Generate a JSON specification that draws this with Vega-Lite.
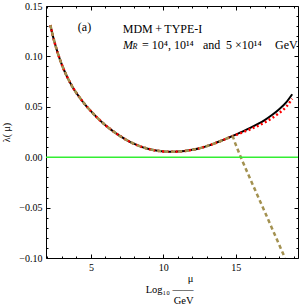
{
  "$schema": "https://vega.github.io/schema/vega-lite/v6.json",
  "width": 252,
  "height": 252,
  "autosize": {"type": "none"},
  "padding": {"left": 46, "top": 6, "right": 2, "bottom": 47},
  "background": "white",
  "config": {
    "font": "Liberation Serif",
    "view": {"stroke": "black", "strokeWidth": 1},
    "axis": {
      "domain": false,
      "grid": false,
      "labelFont": "Liberation Serif",
      "labelFontSize": 10,
      "labelColor": "black",
      "tickColor": "black",
      "titleFont": "Liberation Serif",
      "titleFontWeight": "normal",
      "titleColor": "black",
      "titleFontSize": 10
    }
  },
  "datasets": {
    "curves": [
      {"s": "black", "x": 2.2, "y": 0.131}, {"s": "black", "x": 2.5, "y": 0.1135}, {"s": "black", "x": 2.8, "y": 0.0995}, {"s": "black", "x": 3.1, "y": 0.088}, {"s": "black", "x": 3.4, "y": 0.0785}, {"s": "black", "x": 3.7, "y": 0.0705}, {"s": "black", "x": 4.0, "y": 0.0637}, {"s": "black", "x": 4.5, "y": 0.054}, {"s": "black", "x": 5.0, "y": 0.0457}, {"s": "black", "x": 5.5, "y": 0.0383}, {"s": "black", "x": 6.0, "y": 0.0318}, {"s": "black", "x": 6.5, "y": 0.0261}, {"s": "black", "x": 7.0, "y": 0.0211}, {"s": "black", "x": 7.5, "y": 0.0168}, {"s": "black", "x": 8.0, "y": 0.0132}, {"s": "black", "x": 8.5, "y": 0.0103}, {"s": "black", "x": 9.0, "y": 0.0081}, {"s": "black", "x": 9.5, "y": 0.0066}, {"s": "black", "x": 10.0, "y": 0.0057}, {"s": "black", "x": 10.5, "y": 0.0054}, {"s": "black", "x": 11.0, "y": 0.0056}, {"s": "black", "x": 11.5, "y": 0.0062}, {"s": "black", "x": 12.0, "y": 0.0073}, {"s": "black", "x": 12.5, "y": 0.0089}, {"s": "black", "x": 13.0, "y": 0.011}, {"s": "black", "x": 13.5, "y": 0.0135}, {"s": "black", "x": 14.0, "y": 0.0163}, {"s": "black", "x": 14.5, "y": 0.0193}, {"s": "black", "x": 15.0, "y": 0.0224}, {"s": "black", "x": 15.5, "y": 0.0256}, {"s": "black", "x": 16.0, "y": 0.029}, {"s": "black", "x": 16.5, "y": 0.0327}, {"s": "black", "x": 17.0, "y": 0.0368}, {"s": "black", "x": 17.5, "y": 0.0418}, {"s": "black", "x": 18.0, "y": 0.0476}, {"s": "black", "x": 18.5, "y": 0.0547}, {"s": "black", "x": 18.9, "y": 0.0625},
      {"s": "red", "x": 2.2, "y": 0.131}, {"s": "red", "x": 2.5, "y": 0.1135}, {"s": "red", "x": 2.8, "y": 0.0995}, {"s": "red", "x": 3.1, "y": 0.088}, {"s": "red", "x": 3.4, "y": 0.0785}, {"s": "red", "x": 3.7, "y": 0.0705}, {"s": "red", "x": 4.0, "y": 0.0637}, {"s": "red", "x": 4.5, "y": 0.054}, {"s": "red", "x": 5.0, "y": 0.0457}, {"s": "red", "x": 5.5, "y": 0.0383}, {"s": "red", "x": 6.0, "y": 0.0318}, {"s": "red", "x": 6.5, "y": 0.0261}, {"s": "red", "x": 7.0, "y": 0.0211}, {"s": "red", "x": 7.5, "y": 0.0168}, {"s": "red", "x": 8.0, "y": 0.0132}, {"s": "red", "x": 8.5, "y": 0.0103}, {"s": "red", "x": 9.0, "y": 0.0081}, {"s": "red", "x": 9.5, "y": 0.0066}, {"s": "red", "x": 10.0, "y": 0.0057}, {"s": "red", "x": 10.5, "y": 0.0054}, {"s": "red", "x": 11.0, "y": 0.0056}, {"s": "red", "x": 11.5, "y": 0.0062}, {"s": "red", "x": 12.0, "y": 0.0073}, {"s": "red", "x": 12.5, "y": 0.0089}, {"s": "red", "x": 13.0, "y": 0.011}, {"s": "red", "x": 13.5, "y": 0.0135}, {"s": "red", "x": 14.0, "y": 0.0163}, {"s": "red", "x": 14.5, "y": 0.0192}, {"s": "red", "x": 15.0, "y": 0.022}, {"s": "red", "x": 15.5, "y": 0.0248}, {"s": "red", "x": 16.0, "y": 0.0277}, {"s": "red", "x": 16.5, "y": 0.0309}, {"s": "red", "x": 17.0, "y": 0.0345}, {"s": "red", "x": 17.5, "y": 0.0387}, {"s": "red", "x": 18.0, "y": 0.0438}, {"s": "red", "x": 18.5, "y": 0.0503}, {"s": "red", "x": 18.9, "y": 0.058},
      {"s": "brown", "x": 2.2, "y": 0.131}, {"s": "brown", "x": 2.5, "y": 0.1135}, {"s": "brown", "x": 2.8, "y": 0.0995}, {"s": "brown", "x": 3.1, "y": 0.088}, {"s": "brown", "x": 3.4, "y": 0.0785}, {"s": "brown", "x": 3.7, "y": 0.0705}, {"s": "brown", "x": 4.0, "y": 0.0637}, {"s": "brown", "x": 4.5, "y": 0.054}, {"s": "brown", "x": 5.0, "y": 0.0457}, {"s": "brown", "x": 5.5, "y": 0.0383}, {"s": "brown", "x": 6.0, "y": 0.0318}, {"s": "brown", "x": 6.5, "y": 0.0261}, {"s": "brown", "x": 7.0, "y": 0.0211}, {"s": "brown", "x": 7.5, "y": 0.0168}, {"s": "brown", "x": 8.0, "y": 0.0132}, {"s": "brown", "x": 8.5, "y": 0.0103}, {"s": "brown", "x": 9.0, "y": 0.0081}, {"s": "brown", "x": 9.5, "y": 0.0066}, {"s": "brown", "x": 10.0, "y": 0.0057}, {"s": "brown", "x": 10.5, "y": 0.0054}, {"s": "brown", "x": 11.0, "y": 0.0056}, {"s": "brown", "x": 11.5, "y": 0.0062}, {"s": "brown", "x": 12.0, "y": 0.0073}, {"s": "brown", "x": 12.5, "y": 0.0089}, {"s": "brown", "x": 13.0, "y": 0.011}, {"s": "brown", "x": 13.5, "y": 0.0135}, {"s": "brown", "x": 14.0, "y": 0.0163}, {"s": "brown", "x": 14.5, "y": 0.0193}, {"s": "brown", "x": 14.75, "y": 0.0207}, {"s": "brown", "x": 15.0, "y": 0.0125}, {"s": "brown", "x": 15.35, "y": 0.0}, {"s": "brown", "x": 16.0, "y": -0.0215}, {"s": "brown", "x": 17.0, "y": -0.054}, {"s": "brown", "x": 18.0, "y": -0.0868}, {"s": "brown", "x": 18.4, "y": -0.1}
    ]
  },
  "layer": [
    {
      "data": {"name": "curves"},
      "transform": [{"filter": "datum.s === 'black'"}],
      "mark": {"type": "line", "color": "black", "strokeWidth": 2, "interpolate": "monotone", "clip": true},
      "encoding": {
        "x": {
          "field": "x", "type": "quantitative",
          "scale": {"domain": [1.9, 19.3], "nice": false, "zero": false},
          "axis": {
            "orient": "bottom",
            "values": [2, 3, 4, 5, 6, 7, 8, 9, 10, 11, 12, 13, 14, 15, 16, 17, 18, 19],
            "labelExpr": "datum.value % 5 === 0 ? datum.label : ''",
            "tickSize": {"condition": {"test": "datum.value % 5 === 0", "value": -4}, "value": -2},
            "labelPadding": 8,
            "title": ["\u03bc", "Log\u2081\u2080 \u2014\u2014", "GeV"],
            "titleAlign": "right",
            "titleX": 147,
            "titleFontSize": 10.5,
            "titleLineHeight": 11,
            "titlePadding": 1
          }
        },
        "y": {
          "field": "y", "type": "quantitative",
          "scale": {"domain": [-0.1, 0.15], "nice": false, "zero": false},
          "axis": {
            "orient": "left",
            "values": [-0.1, -0.09, -0.08, -0.07, -0.06, -0.05, -0.04, -0.03, -0.02, -0.01, 0, 0.01, 0.02, 0.03, 0.04, 0.05, 0.06, 0.07, 0.08, 0.09, 0.1, 0.11, 0.12, 0.13, 0.14, 0.15],
            "labelExpr": "abs(round(datum.value * 100)) % 5 === 0 ? format(datum.value, '.2f') : ''",
            "tickSize": {"condition": {"test": "abs(round(datum.value * 100)) % 5 === 0", "value": -4}, "value": -2},
            "labelPadding": 8,
            "title": "\u03bb( \u03bc)",
            "titlePadding": 7
          }
        }
      }
    },
    {
      "data": {"name": "curves"},
      "transform": [{"filter": "datum.s === 'red'"}],
      "mark": {"type": "line", "color": "#ff0000", "strokeWidth": 2.5, "strokeDash": [2, 2.5], "interpolate": "monotone", "clip": true},
      "encoding": {
        "x": {
          "field": "x", "type": "quantitative",
          "scale": {"domain": [1.9, 19.3], "nice": false, "zero": false},
          "axis": {
            "orient": "top",
            "values": [2, 3, 4, 5, 6, 7, 8, 9, 10, 11, 12, 13, 14, 15, 16, 17, 18, 19],
            "labels": false,
            "title": null,
            "tickSize": {"condition": {"test": "datum.value % 5 === 0", "value": -4}, "value": -2}
          }
        },
        "y": {
          "field": "y", "type": "quantitative",
          "scale": {"domain": [-0.1, 0.15], "nice": false, "zero": false},
          "axis": {
            "orient": "right",
            "values": [-0.1, -0.09, -0.08, -0.07, -0.06, -0.05, -0.04, -0.03, -0.02, -0.01, 0, 0.01, 0.02, 0.03, 0.04, 0.05, 0.06, 0.07, 0.08, 0.09, 0.1, 0.11, 0.12, 0.13, 0.14, 0.15],
            "labels": false,
            "title": null,
            "tickSize": {"condition": {"test": "abs(round(datum.value * 100)) % 5 === 0", "value": -4}, "value": -2}
          }
        }
      }
    },
    {
      "data": {"name": "curves"},
      "transform": [{"filter": "datum.s === 'brown'"}],
      "mark": {"type": "line", "color": "#a39150", "strokeWidth": 2.5, "strokeDash": [4, 3], "interpolate": "monotone", "clip": true},
      "encoding": {
        "x": {"field": "x", "type": "quantitative", "scale": {"domain": [1.9, 19.3], "nice": false, "zero": false}, "axis": null},
        "y": {"field": "y", "type": "quantitative", "scale": {"domain": [-0.1, 0.15], "nice": false, "zero": false}, "axis": null}
      }
    },
    {
      "data": {"values": [{"v": 0}]},
      "mark": {"type": "rule", "color": "#33ee33", "strokeWidth": 1.5},
      "encoding": {
        "y": {"field": "v", "type": "quantitative", "scale": {"domain": [-0.1, 0.15], "nice": false, "zero": false}, "axis": null}
      }
    },
    {
      "data": {"values": [
        {"x": 4.1, "y": 0.1295, "t": "(a)"},
        {"x": 7.2, "y": 0.127, "t": "MDM\u2009+\u2009TYPE-I"},
        {"x": 8.53, "y": 0.1113, "t": "= 10\u2074,  10\u00b9\u2074"},
        {"x": 12.74, "y": 0.1113, "t": "and"},
        {"x": 14.33, "y": 0.1113, "t": "5 \u00d710\u00b9\u2074"},
        {"x": 17.71, "y": 0.1113, "t": "GeV"}
      ]},
      "mark": {"type": "text", "align": "left", "baseline": "middle", "fontSize": 12, "font": "Liberation Serif", "color": "black", "clip": false},
      "encoding": {
        "x": {"field": "x", "type": "quantitative", "axis": null},
        "y": {"field": "y", "type": "quantitative", "axis": null},
        "text": {"field": "t"}
      }
    },
    {
      "data": {"values": [{"x": 7.22, "y": 0.1113, "t": "M"}]},
      "mark": {"type": "text", "align": "left", "baseline": "middle", "fontSize": 12, "fontStyle": "italic", "font": "Liberation Serif", "color": "black"},
      "encoding": {
        "x": {"field": "x", "type": "quantitative", "axis": null},
        "y": {"field": "y", "type": "quantitative", "axis": null},
        "text": {"field": "t"}
      }
    },
    {
      "data": {"values": [{"x": 7.87, "y": 0.1092, "t": "R"}]},
      "mark": {"type": "text", "align": "left", "baseline": "middle", "fontSize": 8, "fontStyle": "italic", "font": "Liberation Serif", "color": "black"},
      "encoding": {
        "x": {"field": "x", "type": "quantitative", "axis": null},
        "y": {"field": "y", "type": "quantitative", "axis": null},
        "text": {"field": "t"}
      }
    }
  ],
  "resolve": {"axis": {"x": "independent", "y": "independent"}}
}
